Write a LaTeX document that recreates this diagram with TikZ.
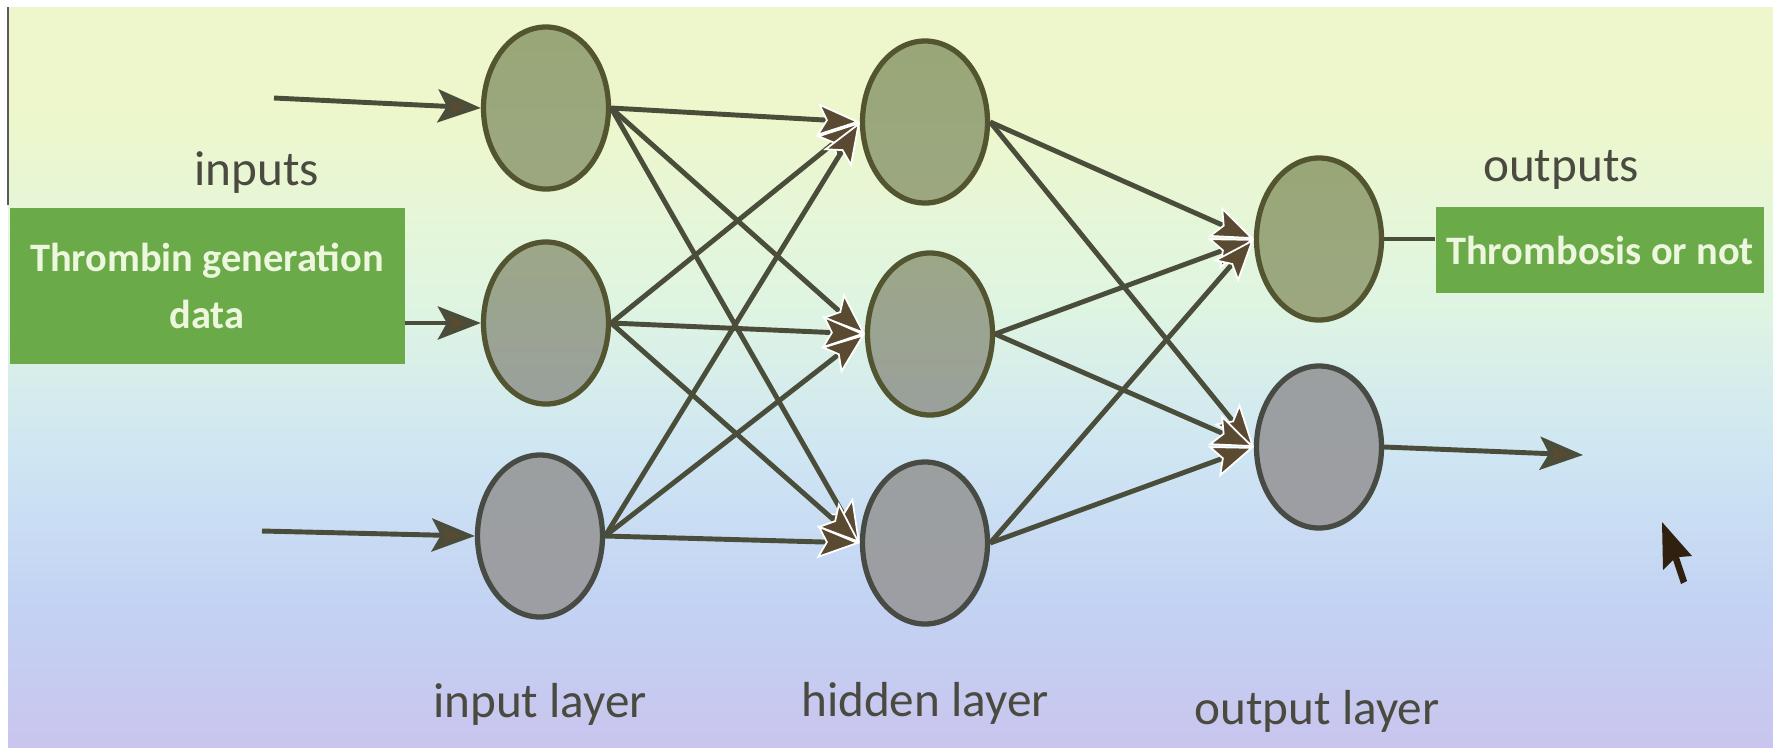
\documentclass[tikz,border=0pt]{standalone}
\usepackage{fontspec}
\setmainfont{Carlito}
\usetikzlibrary{shapes.geometric,arrows.meta}

% 颜色
\definecolor{bgtop}{HTML}{EEF7CB}
\definecolor{bgmid}{HTML}{DFF5E2}
\definecolor{bglow}{HTML}{CFE6F3}
\definecolor{bgblue}{HTML}{C3D3F3}
\definecolor{bgbot}{HTML}{C9C5EE}
\definecolor{nodeline}{HTML}{52552F}
\definecolor{grayline}{HTML}{484A44}
\definecolor{linkcol}{HTML}{4A4D3A}
\definecolor{tipcol}{HTML}{5A4A32}
\definecolor{boxgreen}{HTML}{6BAA48}
\definecolor{boxtext}{HTML}{ECF7DE}
\definecolor{textcol}{HTML}{4A4A40}

\pgfdeclareverticalshading{screen}{100bp}{color(0bp)=(bgbot); color(25bp)=(bgbot);
  color(35bp)=(bgblue); color(45bp)=(bglow); color(55bp)=(bgmid); color(68bp)=(bgtop); color(100bp)=(bgtop)}

\tikzset{
  neuron/.style={ellipse, draw=nodeline, line width=1.5pt, minimum width=1.25cm, minimum height=1.62cm, inner sep=0pt},
  upper/.style={top color={rgb,255:red,153;green,167;blue,119}, bottom color={rgb,255:red,156;green,167;blue,129}},
  middle/.style={top color={rgb,255:red,156;green,167;blue,135}, bottom color={rgb,255:red,154;green,160;blue,156}},
  lower/.style={top color={rgb,255:red,155;green,159;blue,160}, bottom color={rgb,255:red,156;green,158;blue,164}, draw=grayline},
  link/.style={draw=linkcol, line width=1.4pt, -{Stealth[length=4.3mm, width=3.3mm, inset=0.9mm, line width=0.5pt, color=white, fill=tipcol]}},
  feed/.style={draw=linkcol, line width=1.4pt, -{Stealth[length=4.3mm, width=3.3mm, inset=0.9mm, fill=tipcol]}},
  databox/.style={fill=boxgreen, text=boxtext, align=center, inner sep=0pt, font=\bfseries\fontsize{11.5}{16}\selectfont},
  layertext/.style={text=textcol, font=\fontsize{14}{16}\selectfont, anchor=base}
}

\begin{document}
\begin{tikzpicture}
\useasboundingbox (0,0) rectangle (17.73,-7.47);

% 背景
\fill[white] (0,0) rectangle (17.73,-7.47);
\shade[shading=screen] (0.08,-0.07) rectangle (17.73,-7.47);
\draw[gray!70!black, line width=0.6pt] (0.08,-0.07) -- (0.08,-2.05);

% 神经元
\node[neuron, upper]  (i1) at (5.46,-1.08) {};
\node[neuron, middle] (i2) at (5.46,-3.23) {};
\node[neuron, lower]  (i3) at (5.40,-5.36) {};
\node[neuron, upper]  (h1) at (9.25,-1.22) {};
\node[neuron, middle] (h2) at (9.30,-3.34) {};
\node[neuron, lower]  (h3) at (9.25,-5.43) {};
\node[neuron, upper]  (o1) at (13.19,-2.39) {};
\node[neuron, lower]  (o2) at (13.19,-4.47) {};

% 绿框
\node[databox, minimum width=3.95cm, minimum height=1.56cm] (tg) at (2.07,-2.86) {Thrombin generation\\data};
\node[databox, minimum width=3.28cm, minimum height=0.86cm] (tb) at (16.00,-2.50) {Thrombosis or not};

% 文字
\node[layertext] (inlab)  at (2.57,-1.85) {inputs};
\node[layertext] (outlab) at (15.61,-1.81) {outputs};
\node[layertext] (l1) at (5.40,-7.17) {input layer};
\node[layertext] (l2) at (9.25,-7.16) {hidden layer};
\node[layertext] (l3) at (13.17,-7.24) {output layer};

% 输入输出箭头
\coordinate (x1) at (2.74,-0.98);
\coordinate (x3) at (2.62,-5.31);
\coordinate (y2) at (15.83,-4.55);
\draw[feed] (x1) -- (i1.west);
\draw[feed] (tg.east |- i2.west) -- (i2.west);
\draw[feed] (x3) -- (i3.west);
\draw[feed] (o2.east) -- (y2);
\draw[draw=linkcol, line width=1.4pt] (o1.east) -- (o1.east -| tb.west);

% 全连接
\foreach \a in {1,2,3}
  \foreach \b in {1,2,3}
    \draw[link] (i\a.east) -- (h\b.west);
\foreach \a in {1,2,3}
  \foreach \b in {1,2}
    \draw[link] (h\a.east) -- (o\b.west);

% 鼠标
\fill[black!75!brown] (16.62,-5.22) -- (16.63,-5.70) -- (16.73,-5.60) -- (16.81,-5.84)
  -- (16.87,-5.81) -- (16.79,-5.57) -- (16.92,-5.56) -- cycle;
\end{tikzpicture}
\end{document}
